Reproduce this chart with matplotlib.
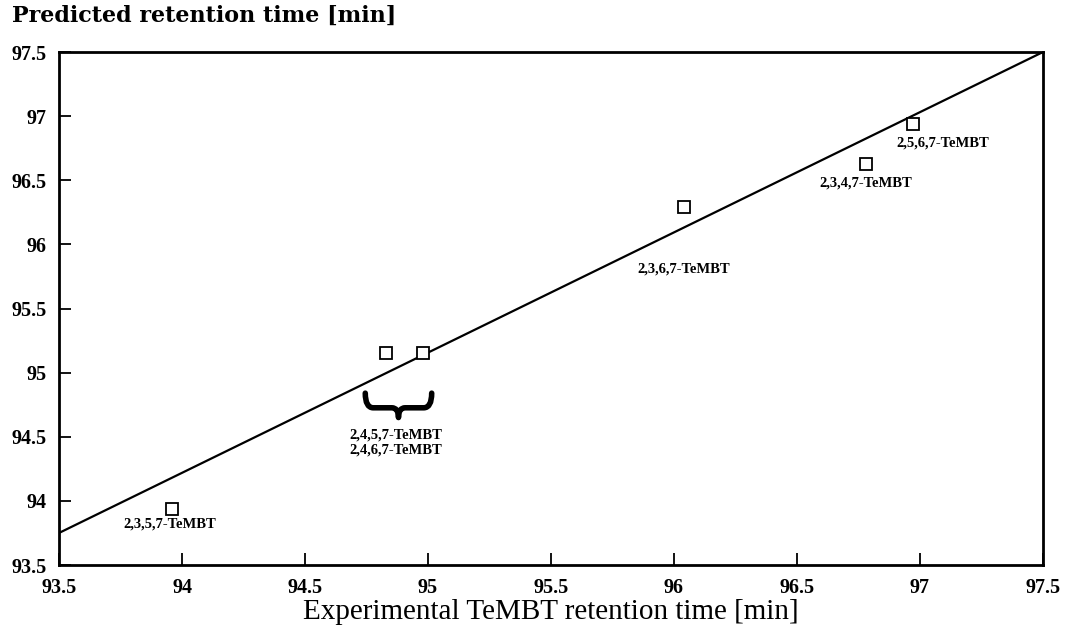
import matplotlib
matplotlib.use("Agg")
from matplotlib import pyplot as plt
from matplotlib.path import Path
from matplotlib.patches import PathPatch

# experimental vs predicted retention times [min]
names = ["2,3,5,7-TeMBT", "2,4,5,7-TeMBT", "2,4,6,7-TeMBT",
         "2,3,6,7-TeMBT", "2,3,4,7-TeMBT", "2,5,6,7-TeMBT"]
exp_rt = [93.96, 94.83, 94.98, 96.04, 96.78, 96.97]
pred_rt = [93.94, 95.15, 95.15, 96.29, 96.63, 96.94]

# fitted line end points
fit_x = [93.5, 97.5]
fit_y = [93.75, 97.5]

ticks = [93.5, 94, 94.5, 95, 95.5, 96, 96.5, 97, 97.5]
tick_labels = ["93.5", "94", "94.5", "95", "95.5", "96", "96.5", "97", "97.5"]

serif = "Liberation Serif"

fig = plt.figure(figsize=(10.67, 6.36), dpi=100)
ax = fig.add_axes([0.0553, 0.1116, 0.9222, 0.8066])

ax.plot(fit_x, fit_y, color="black", lw=1.6)
ax.plot(exp_rt, pred_rt, ls="none", marker="s", ms=9, mfc="white",
        mec="black", mew=1.3)

# labels under the points (offsets in points)
label_pos = {
    "2,3,5,7-TeMBT": (-1.5, -11),
    "2,3,6,7-TeMBT": (0, -44.6),
    "2,3,4,7-TeMBT": (0, -13.7),
    "2,5,6,7-TeMBT": (21.6, -13.7),
}
for n, x, y in zip(names, exp_rt, pred_rt):
    if n in label_pos:
        ax.annotate(n, (x, y), xytext=label_pos[n], textcoords="offset points",
                    ha="center", va="center", fontsize=10.5, fontweight="bold",
                    family=serif)

# the two co-eluting isomers share one label under a curly brace
x0, x1 = exp_rt[1] - 0.085, exp_rt[2] + 0.035
xc = (x0 + x1) / 2
w = x1 - x0
ytop = pred_rt[1] - 0.31
ybot = pred_rt[1] - 0.50
ymid = ytop - 0.6 * (ytop - ybot)
verts = [(x0, ytop), (x0, ymid), (x0 + 0.12 * w, ymid),
         (xc - 0.1 * w, ymid),
         (xc, ymid), (xc, ybot),
         (xc, ymid), (xc + 0.1 * w, ymid),
         (x1 - 0.12 * w, ymid),
         (x1, ymid), (x1, ytop)]
codes = [Path.MOVETO, Path.CURVE3, Path.CURVE3, Path.LINETO,
         Path.CURVE3, Path.CURVE3, Path.CURVE3, Path.CURVE3,
         Path.LINETO, Path.CURVE3, Path.CURVE3]
ax.add_patch(PathPatch(Path(verts, codes), fill=False, lw=4,
                       capstyle="round", joinstyle="round"))
ax.annotate(names[1] + "\n" + names[2], ((exp_rt[1] + exp_rt[2]) / 2, pred_rt[1]),
            xytext=(-6.5, -64), textcoords="offset points", ha="center",
            va="center", fontsize=10.5, fontweight="bold", family=serif,
            linespacing=1.15)

ax.set_xlim(93.5, 97.5)
ax.set_ylim(93.5, 97.5)
ax.set_xticks(ticks)
ax.set_yticks(ticks)
ax.set_xticklabels(tick_labels, fontsize=14.5, fontweight="bold", family=serif)
ax.set_yticklabels(tick_labels, fontsize=14.5, fontweight="bold", family=serif)
ax.tick_params(direction="in", length=8.5, width=1.3, top=False, right=False,
               pad=9)
for s in ax.spines.values():
    s.set_linewidth(2)

ax.set_xlabel("Experimental TeMBT retention time [min]", fontsize=21,
              family=serif, labelpad=1)
fig.text(0.011, 0.992, "Predicted retention time [min]", ha="left", va="top",
         fontsize=16, fontweight="bold", family="DejaVu Serif")

plt.savefig("out.png", dpi=100)
